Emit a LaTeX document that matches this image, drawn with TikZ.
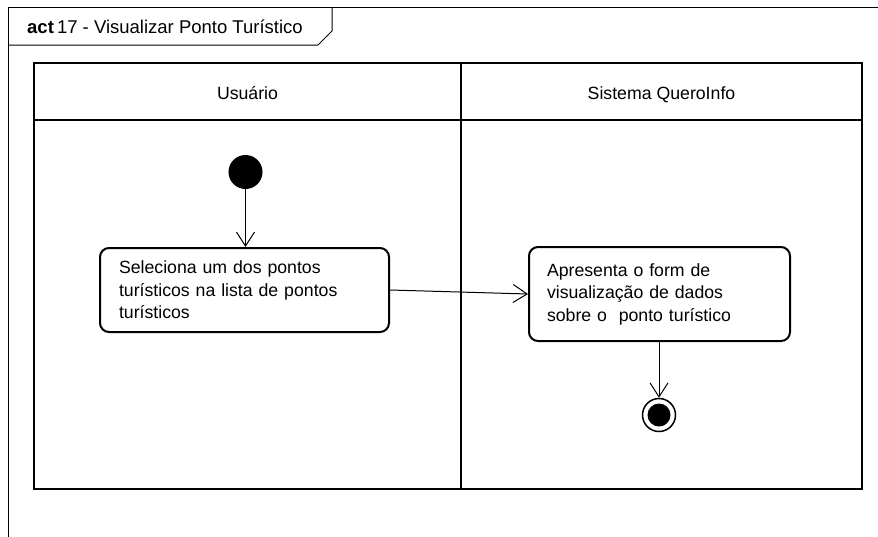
\documentclass[tikz,border=0pt]{standalone}
\usepackage{fontspec}
\setmainfont{Liberation Sans}
\usetikzlibrary{arrows.meta}
\begin{document}
\begin{tikzpicture}[x=1pt,y=-1pt,
  txt/.style={font=\fontsize{17.7}{22.5}\selectfont},
  lane/.style={draw=black,line width=2pt},
  actbox/.style={draw=black,line width=2pt,rounded corners=9pt,align=left,anchor=center,inner sep=0pt,txt},
  flow/.style={draw=black,line width=1pt,-{Straight Barb[length=14pt,width=18pt,line width=1pt]}},
]
\useasboundingbox (0,0) rectangle (878,536);
% outer frame
\draw[line width=1pt] (8.5,540) -- (8.5,7.5) -- (880,7.5);
\draw[line width=1pt] (8.5,45) -- (318,45) -- (332,31) -- (332,7.5);
\node[font=\fontsize{18.5}{22}\selectfont,anchor=base west,inner sep=0pt] (title) at (27,33) {\textbf{act}\,17 - Visualizar Ponto Turístico};
% swimlanes
\draw[lane] (34,63) rectangle (862,489);
\draw[lane] (34,120) -- (862,120);
\draw[lane] (461,63) -- (461,489);
\node[txt,anchor=base,inner sep=0pt] (lane1) at (247.5,99) {Usuário};
\node[txt,anchor=base,inner sep=0pt] (lane2) at (661.5,99) {Sistema QueroInfo};
% nodes
\node[circle,fill=black,minimum size=34pt,inner sep=0pt] (init) at (245.5,172) {};
\node[actbox,minimum width=289pt,minimum height=84pt,text width=251pt] (a1) at (244.5,290) {Seleciona um dos pontos\\turísticos na lista de pontos\\turísticos};
\node[actbox,minimum width=261pt,minimum height=94pt,text width=225pt] (a2) at (659.5,294) {Apresenta o form de\\visualização de dados\\sobre o\ \ ponto turístico};
\node[circle,draw=black,line width=1.5pt,fill=white,minimum size=33pt,inner sep=0pt] (final) at (659,415) {};
\node[circle,fill=black,minimum size=23pt,inner sep=0pt] (finalin) at (659,415) {};
% flows
\draw[flow] (init.south) -- (init.south |- a1.north);
\draw[flow] (a1.east) -- (a2.west);
\draw[flow] (a2.south -| final) -- (final.north);
\end{tikzpicture}
\end{document}
